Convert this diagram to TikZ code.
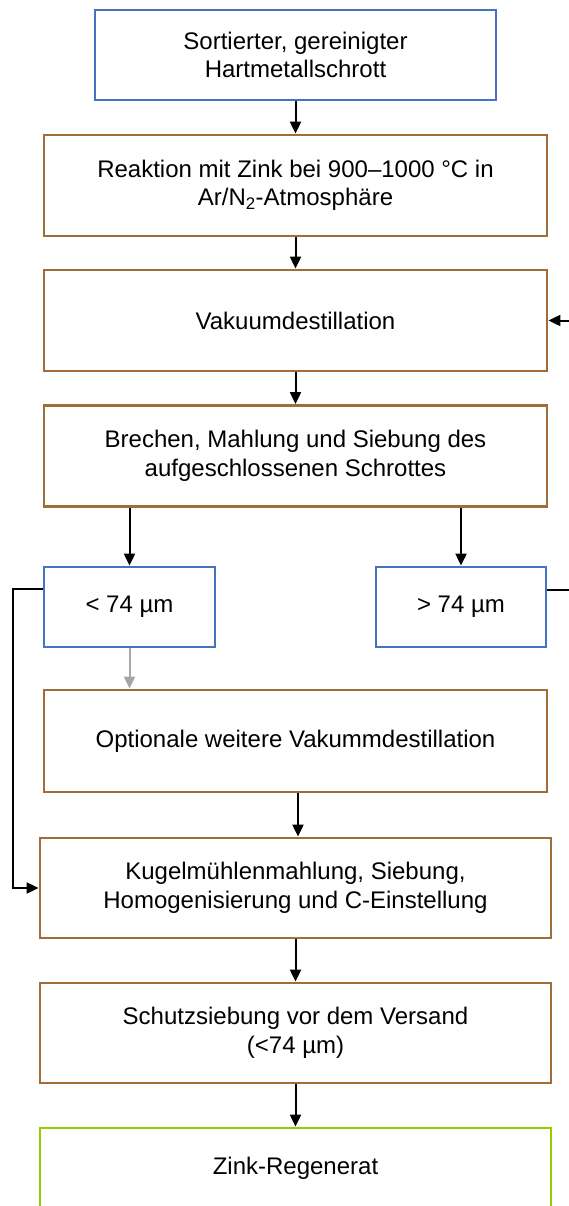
\documentclass[tikz,border=0pt]{standalone}
\usepackage{fontspec}
\setmainfont{Liberation Sans}
\usetikzlibrary{arrows.meta,calc}
\definecolor{boxblue}{RGB}{68,114,196}
\definecolor{boxbrown}{RGB}{160,108,58}
\definecolor{boxgreen}{RGB}{153,204,0}
\definecolor{arrgray}{RGB}{166,166,166}
\begin{document}
\begin{tikzpicture}[x=1pt,y=-1pt,
  box/.style={draw, line width=2.8pt, align=center, inner sep=0pt,
    font=\fontsize{24}{28.5}\selectfont},
  bluebox/.style={box, draw=boxblue},
  brownbox/.style={box, draw=boxbrown},
  greenbox/.style={box, draw=boxgreen},
  arr/.style={line width=2pt, -{Triangle[length=12pt,width=11pt]}},
  grayarr/.style={arr, draw=arrgray, -{Triangle[length=12pt,width=11pt,fill=arrgray]}}
]
\useasboundingbox (0,0) rectangle (569,1206);
\clip (0,0) rectangle (569,1206);

\node[bluebox, minimum width=401pt, minimum height=90pt] (b1) at (295.5,55)
  {Sortierter, gereinigter\\Hartmetallschrott};
\node[brownbox, minimum width=503pt, minimum height=101pt] (b2) at (295.5,185.5)
  {Reaktion mit Zink bei 900–1000 °C in\\Ar/N\textsubscript{2}-Atmosphäre};
\node[brownbox, minimum width=503pt, minimum height=101pt] (b3) at (295.5,320.5)
  {Vakuumdestillation};
\node[brownbox, minimum width=503pt, minimum height=101pt] (b4) at (295.5,456)
  {Brechen, Mahlung und Siebung des\\aufgeschlossenen Schrottes};
\node[bluebox, minimum width=171pt, minimum height=80pt] (b5a) at (129.5,607)
  {< 74 µm};
\node[bluebox, minimum width=170pt, minimum height=80pt] (b5b) at (461,607)
  {> 74 µm};
\node[brownbox, minimum width=503pt, minimum height=102pt] (b6) at (295.5,741)
  {Optionale weitere Vakummdestillation};
\node[brownbox, minimum width=511pt, minimum height=100pt] (b7) at (295.5,888)
  {Kugelmühlenmahlung, Siebung,\\Homogenisierung und C-Einstellung};
\node[brownbox, minimum width=511pt, minimum height=100pt] (b8) at (295.5,1033)
  {Schutzsiebung vor dem Versand\\(<74 µm)};
\node[greenbox, minimum width=511pt, minimum height=80pt] (b9) at (295.5,1168)
  {Zink-Regenerat};

\coordinate (rin) at (569,320.5);
\coordinate (rout) at (569,590);
\coordinate (lc1) at (13,589);
\coordinate (lc2) at (13,888);

\draw[arr] (b1) -- (b2);
\draw[arr] (b2) -- (b3);
\draw[arr] (b3) -- (b4);
\draw[arr] (b4.south -| b5a) -- (b5a);
\draw[arr] (b4.south -| b5b) -- (b5b);
\draw[grayarr] (b5a) -- (b6.north -| b5a);
\draw[arr] (b6.south -| 298,0) -- (b7.north -| 298,0);
\draw[arr] (b7) -- (b8);
\draw[arr] (b8) -- (b9);
\draw[arr] (rin) -- (b3.east);
\draw[line width=2pt] (b5b.east |- rout) -- (rout);
\draw[arr] (b5a.west |- lc1) -- (lc1) -- (lc2) -- (b7.west);
\end{tikzpicture}
\end{document}
